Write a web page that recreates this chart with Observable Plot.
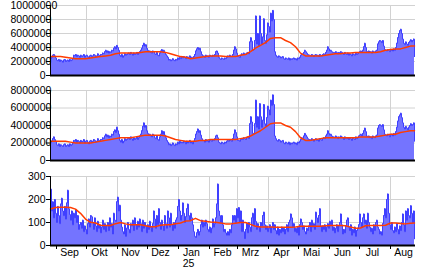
<!DOCTYPE html>
<html><head><meta charset="utf-8">
<script src="https://cdn.jsdelivr.net/npm/d3@7"></script>
<script src="https://cdn.jsdelivr.net/npm/@observablehq/plot@0.6"></script>
<style>
html,body{margin:0;padding:0;background:#fff;}
#chart{position:relative;width:424px;height:270px;overflow:hidden;background:#fff;}
#chart svg{position:absolute;left:0;display:block;overflow:visible;}
</style></head><body><div id="chart"></div>
<script>
// ---- time axis ----
const startDate = "2024-08-26";
const endDate = "2025-08-26";
const monthStarts = ["2024-09-01","2024-10-01","2024-11-01","2024-12-01","2025-01-01","2025-02-01","2025-03-01","2025-04-01","2025-05-01","2025-06-01","2025-07-01","2025-08-01"];
const monthMids = ["2024-09-15","2024-10-15","2024-11-15","2024-12-15","2025-01-15","2025-02-15","2025-03-15","2025-04-15","2025-05-15","2025-06-15","2025-07-15","2025-08-15"];
const monthLabels = ["Sep","Okt","Nov","Dez","Jan","Feb","Mrz","Apr","Mai","Jun","Jul","Aug"];
const yearLabel = "25";
const yearLabelAt = "2025-01-15";

// ---- panel 1 (millions), daily from 2024-08-26 ----
const series1 = [
2.4,2.6,2.9,3.0,2.8,2.5,
2.2,2.1,2.3,2.0,2.2,2.1,1.9,2.2,2.3,2.0,2.1,2.2,2.0,2.3,2.1,2.2,2.4,
2.9,2.8,3.0,2.7,2.9,2.8,2.6,2.9,2.7,2.8,3.0,2.6,2.8,2.9,2.7,2.5,2.8,2.9,2.7,2.8,3.0,2.9,2.7,2.8,3.1,2.9,2.8,3.0,
3.0,3.2,3.1,3.4,3.6,3.3,3.5,3.2,3.4,3.3,3.6,3.5,
3.9,4.1,3.8,4.3,4.0,3.6,
2.9,2.7,3.0,2.6,2.8,3.1,2.9,3.0,
3.1,3.2,3.0,3.3,3.1,2.9,3.2,3.0,3.1,3.3,3.0,3.2,3.4,3.6,
3.9,4.3,4.6,4.2,4.4,3.9,3.6,
3.4,3.5,3.3,3.2,3.5,3.4,3.1,3.0,3.3,2.9,
2.8,3.2,3.5,3.7,3.4,3.6,3.3,3.0,2.8,2.6,
2.2,2.3,2.1,2.2,2.4,2.2,2.1,2.3,2.2,2.5,2.3,2.6,2.4,
2.6,2.5,2.7,2.6,2.4,2.7,2.5,2.6,2.8,2.5,2.6,2.4,2.7,3.0,
3.5,3.8,4.0,3.7,3.9,3.4,3.0,2.8,
2.8,2.6,2.9,2.7,2.8,2.6,2.9,2.8,2.7,
2.9,2.8,3.0,3.4,3.5,
3.2,2.6,2.4,2.3,2.5,2.4,2.3,2.5,2.4,2.6,
2.8,2.7,2.9,2.8,2.7,
3.0,3.6,4.1,3.8,3.2,2.7,
2.7,2.6,2.9,
3.1,3.0,3.2,3.1,3.0,3.2,3.3,3.1,
4.8,5.4,4.9,3.6,
3.7,5.0,8.5,4.5,6.0,4.2,8.5,6.0,4.5,5.5,8.1,5.0,4.6,5.8,7.5,7.0,6.2,8.9,7.8,9.3,8.0,3.4,
2.9,2.7,2.6,2.8,2.7,2.5,2.6,2.7,
2.4,2.3,2.5,2.4,2.3,2.5,2.2,2.4,2.3,2.4,2.5,2.3,2.4,2.2,2.5,2.4,2.6,
2.9,3.1,3.0,3.3,3.6,3.4,3.2,3.0,2.9,
2.9,2.8,3.0,2.9,2.7,2.9,3.0,2.8,2.9,2.7,3.0,2.9,2.8,3.0,3.1,3.0,3.3,
3.6,4.1,3.8,3.5,3.6,3.4,3.3,
3.3,3.2,3.4,3.3,3.1,3.3,3.2,3.4,3.3,3.2,3.0,3.3,3.1,
3.0,3.2,2.9,3.1,3.0,2.8,3.1,3.0,2.9,3.2,3.0,3.1,3.3,3.4,
3.5,3.3,3.6,4.1,4.6,4.0,3.4,
3.4,3.5,3.3,3.4,3.2,3.5,3.4,3.3,3.5,3.6,
4.5,4.8,5.0,4.9,4.7,5.0,4.2,3.7,
3.6,3.5,3.7,3.6,3.4,3.6,3.7,3.5,3.8,3.6,
4.0,4.6,5.4,6.0,6.4,6.6,6.0,5.2,
4.6,4.4,4.8,4.5,4.3,4.7,
4.9,5.1,4.8,5.0,5.2,
2.7];
// average line, one value every 5 days (last one at the final day)
const average1 = [2.7,2.7,2.7,2.6,2.5,2.4,2.4,2.4,2.5,2.6,2.7,
2.8,2.9,3.1,3.2,3.2,3.2,3.2,3.3,3.4,3.4,
3.4,3.4,3.3,3.1,2.9,2.7,2.6,2.4,2.5,2.6,
2.7,2.8,2.8,2.8,2.7,2.7,2.7,2.9,3.0,3.4,
3.9,4.3,4.7,5.3,5.4,5.4,5.0,4.7,4.1,3.2,
2.8,2.8,2.8,2.8,2.9,3.0,3.1,3.1,3.2,3.2,
3.3,3.3,3.3,3.3,3.3,3.4,3.6,3.7,3.8,3.8,
4.0,4.2,4.2];
const ticks1 = [0,2,4,6,8,10];

// ---- panel 2 (millions) ----
const series2 = [
2.1,2.2,2.5,2.7,2.4,2.2,
1.8,1.7,1.9,1.6,1.8,1.7,1.6,1.8,1.9,1.6,1.7,1.8,1.6,1.9,1.7,1.8,2.0,
2.3,2.2,2.4,2.1,2.3,2.2,2.0,2.3,2.1,2.2,2.4,2.0,2.2,2.3,2.1,1.9,2.2,2.3,2.1,2.2,2.4,2.3,2.1,2.2,2.5,2.3,2.2,2.4,
2.4,2.6,2.5,2.8,3.0,2.7,2.9,2.6,2.8,2.7,3.0,2.9,
3.3,3.5,3.2,3.8,3.4,3.0,
2.3,2.1,2.4,2.0,2.2,2.5,2.3,2.4,
2.5,2.6,2.4,2.7,2.5,2.3,2.6,2.4,2.5,2.7,2.4,2.6,2.8,3.0,
3.4,3.9,4.3,3.8,4.0,3.4,3.1,
2.9,3.0,2.8,2.7,3.0,2.9,2.6,2.5,2.8,2.4,
2.3,2.7,3.0,3.4,3.0,3.3,2.9,2.6,2.3,2.1,
1.8,1.9,1.7,1.8,2.0,1.8,1.7,1.9,1.8,2.1,1.9,2.2,2.0,
2.1,2.0,2.2,2.1,1.9,2.2,2.0,2.1,2.3,2.0,2.1,1.9,2.2,2.5,
3.0,3.3,3.6,3.2,3.4,2.9,2.5,2.3,
2.3,2.1,2.4,2.2,2.3,2.1,2.4,2.3,2.2,
2.4,2.3,2.5,2.8,2.9,
2.6,2.1,2.0,1.9,2.1,2.0,1.9,2.1,2.0,2.2,
2.3,2.2,2.4,2.3,2.2,
2.5,3.0,3.5,3.2,2.7,2.3,
2.3,2.2,2.4,
2.5,2.4,2.6,2.5,2.4,2.6,2.7,2.5,
4.2,5.0,4.4,3.1,
3.1,4.2,6.9,3.8,5.0,3.6,6.5,5.0,3.8,4.6,6.4,4.2,3.9,4.9,6.2,5.8,5.2,6.9,6.3,7.5,6.4,2.8,
2.5,2.3,2.2,2.4,2.3,2.1,2.2,2.3,
2.0,1.9,2.1,2.0,1.9,2.1,1.8,2.0,1.9,2.0,2.1,1.9,2.0,1.8,2.1,2.0,2.2,
2.4,2.6,2.5,2.8,3.1,2.9,2.7,2.5,2.4,
2.4,2.3,2.5,2.4,2.2,2.4,2.5,2.3,2.4,2.2,2.5,2.4,2.3,2.5,2.6,2.5,2.8,
3.0,3.4,3.1,2.9,3.0,2.8,2.7,
2.7,2.6,2.8,2.7,2.5,2.7,2.6,2.8,2.7,2.6,2.4,2.7,2.5,
2.5,2.6,2.4,2.6,2.5,2.3,2.6,2.5,2.4,2.7,2.5,2.6,2.8,2.9,
3.0,2.8,3.1,3.4,3.7,3.3,2.8,
2.7,2.8,2.6,2.7,2.5,2.8,2.7,2.6,2.8,2.9,
3.7,4.0,4.1,4.0,3.9,4.1,3.5,3.0,
2.9,2.8,3.0,2.9,2.7,2.9,3.0,2.8,3.1,2.9,
3.3,3.8,4.5,5.0,5.2,5.4,4.9,4.3,
3.8,3.6,3.9,3.7,3.5,3.8,
4.0,4.2,4.0,4.1,4.3,
2.2];
const average2 = [2.2,2.2,2.2,2.2,2.1,2.0,2.0,2.0,2.0,2.1,2.2,
2.3,2.4,2.5,2.6,2.6,2.6,2.7,2.8,2.9,2.9,
2.9,2.9,2.8,2.6,2.4,2.3,2.2,2.2,2.2,2.3,
2.3,2.4,2.4,2.4,2.4,2.4,2.4,2.5,2.6,2.8,
3.1,3.4,3.8,4.2,4.3,4.3,4.0,3.8,3.3,2.6,
2.3,2.3,2.4,2.5,2.6,2.6,2.6,2.6,2.6,2.6,
2.6,2.7,2.7,2.7,2.7,2.8,2.9,3.0,3.0,3.2,
3.3,3.4,3.4];
const ticks2 = [0,2,4,6,8];

// ---- panel 3 (counts) ----
const series3 = [
245,150,190,120,200,140,100,170,130,95,180,205,150,130,170,115,185,240,160,135,110,150,
90,140,120,155,100,130,70,90,100,75,110,60,85,70,50,95,115,80,130,125,100,70,120,85,60,105,
75,90,55,80,110,70,95,60,85,100,65,120,80,95,50,140,110,105,190,210,150,175,110,80,
60,50,90,40,75,100,70,55,95,85,110,65,120,90,70,105,80,115,
95,60,110,75,100,85,55,90,70,105,80,60,95,150,115,75,130,90,160,100,70,110,85,65,
130,95,75,150,120,80,140,90,65,100,75,110,120,170,200,150,110,130,185,140,100,125,160,180,
130,110,140,120,90,60,40,35,55,70,45,60,90,110,80,100,85,110,95,70,60,80,55,75,
115,80,95,120,180,267,150,130,100,130,90,60,70,55,45,60,45,70,55,90,130,110,130,100,160,120,165,100,150,60,
110,60,30,70,95,55,100,80,60,120,140,90,160,105,70,95,80,60,100,85,130,145,90,70,85,60,75,90,55,80,
100,70,90,65,50,80,45,70,55,80,60,75,50,70,90,60,100,110,137,120,80,95,60,75,55,80,45,90,115,100,
70,85,60,50,75,65,85,100,60,110,80,95,70,145,120,100,130,160,85,60,
85,70,90,60,80,95,75,105,90,110,65,80,55,75,90,60,85,100,137,90,50,70,55,85,110,120,80,65,90,45,
70,55,80,40,65,75,90,137,100,80,120,137,95,110,75,140,100,80,60,75,50,90,65,100,110,80,70,50,60,45,
95,130,160,120,200,224,140,90,70,100,65,55,80,60,95,70,50,85,65,100,137,90,60,150,110,160,130,120,173,140,
100,150,29];
const average3 = [159,165,166,166,165,158,140,115,101,98,88,
87,87,95,100,94,90,90,90,86,82,
82,88,90,90,95,98,106,108,118,108,
105,102,101,98,94,94,97,100,100,92,
84,80,80,80,79,79,79,79,80,84,
84,84,84,84,86,87,87,87,86,80,
75,76,86,87,87,87,88,98,98,96,
94,97,98];
const ticks3 = [0,100,200,300];

// ---- drawing ----
const parse = d3.utcParse("%Y-%m-%d");
const start = parse(startDate), end = parse(endDate);
const dayOf = i => d3.utcDay.offset(start, i);
const FONT = "Liberation Sans, Arial, sans-serif";

function panel(o) {
  const data = o.values.map((v, i) => ({date: dayOf(i), v}));
  const lastDay = o.values.length - 1;
  const avgData = o.avg.map((v, i, a) => ({date: dayOf(i === a.length - 1 ? lastDay : i * 5), v}));
  const fmt = d => String(Math.round(d * o.unit));
  const small = o.ticks.filter(t => fmt(t).length <= 5);
  const big = o.ticks.filter(t => fmt(t).length > 5);
  const grid = monthStarts.slice(1).map(parse);
  const marks = [
    Plot.gridY(o.ticks.filter(t => t > 0), {stroke: "#d2d2d2", strokeOpacity: 1}),
    Plot.gridX(grid, {stroke: "#d2d2d2", strokeOpacity: 1}),
    Plot.areaY(data, {x: "date", y: "v", fill: "#7474ff", curve: "step-after"}),
    Plot.lineY(data, {x: "date", y: "v", stroke: "#4040ff", strokeWidth: 1, curve: "step-after"}),
    Plot.lineY(avgData, {x: "date", y: "v", stroke: "#ff3c00", strokeWidth: 1.5}),
    Plot.text(small, {y: d => d, text: fmt, frameAnchor: "left", textAnchor: "end", dx: -5, fill: "#000"}),
    Plot.text(big, {y: d => d, text: fmt, frameAnchor: "left", textAnchor: "start", dx: -40, fill: "#000"}),
    Plot.axisY(o.ticks, {tickSize: 4, tickFormat: () => "", stroke: "#000", label: null}),
    Plot.ruleX([start], {stroke: "#000"}),
    Plot.ruleY([0], {stroke: "#000", strokeWidth: 2})
  ];
  if (o.xAxis) {
    const labels = monthMids.map((m, i) => ({date: parse(m), label: monthLabels[i]}));
    marks.push(
      Plot.axisX(monthStarts.map(parse), {tickSize: 4, tickFormat: () => "", stroke: "#000", label: null}),
      Plot.text(labels, {x: "date", text: "label", frameAnchor: "bottom", lineAnchor: "top", dy: 3, dx: -1, fill: "#000"}),
      Plot.text([{date: parse(yearLabelAt), label: yearLabel}], {x: "date", text: "label", frameAnchor: "bottom", lineAnchor: "top", dy: 14, dx: -4, fill: "#000"})
    );
  }
  const svg = Plot.plot({
    width: 424, height: o.height,
    marginLeft: 50, marginRight: 9, marginTop: o.mt, marginBottom: o.mb,
    x: {type: "utc", domain: [start, end], axis: o.xAxis ? undefined : null, label: null},
    y: {domain: [0, o.yMax], label: null},
    style: {fontFamily: FONT, fontSize: "10.5px", background: "transparent", color: "#000", overflow: "visible"},
    marks
  });
  svg.style.top = o.top + "px";
  return svg;
}

const chart = document.getElementById("chart");
chart.appendChild(panel({values: series1, avg: average1, ticks: ticks1, unit: 1e6, yMax: 10, top: 0, height: 85, mt: 5, mb: 10}));
chart.appendChild(panel({values: series2, avg: average2, ticks: ticks2, unit: 1e6, yMax: 8, top: 85, height: 85, mt: 5, mb: 10}));
chart.appendChild(panel({values: series3, avg: average3, ticks: ticks3, unit: 1, yMax: 300, top: 170, height: 100, mt: 6, mb: 25, xAxis: true}));
</script></body></html>
